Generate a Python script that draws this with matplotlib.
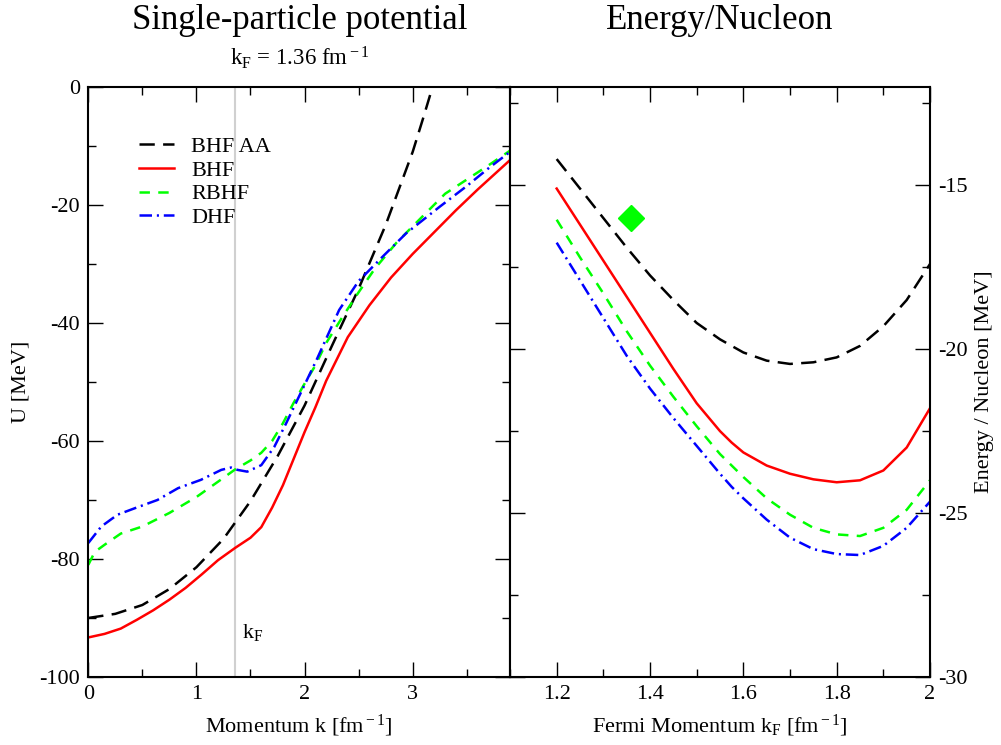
import matplotlib
matplotlib.use("Agg")
import matplotlib.pyplot as plt
from matplotlib.ticker import MultipleLocator

plt.rcParams["font.family"] = ["Liberation Serif", "DejaVu Serif"]
plt.rcParams["mathtext.fontset"] = "custom"
plt.rcParams["mathtext.rm"] = "Liberation Serif"
plt.rcParams["mathtext.it"] = "Liberation Serif:italic"
plt.rcParams["lines.scale_dashes"] = False
plt.rcParams["axes.unicode_minus"] = False

# ---------- DATA: single-particle potential (left) ----------
k_aa = [0, 0.25, 0.5, 0.75, 1.0, 1.25, 1.5, 1.75, 2.0, 2.25, 2.5, 2.75, 3.0, 3.1, 3.2]
u_aa = [-90.0, -89.3, -87.8, -85.1, -81.4, -76.6, -70.2, -62.6, -54.0, -44.0,
        -34.2, -23.4, -11.0, -5.1, 1.0]

k_bhf = [0, 0.15, 0.3, 0.45, 0.6, 0.75, 0.9, 1.05, 1.2, 1.36, 1.5, 1.6, 1.7, 1.8,
         1.9, 2.0, 2.1, 2.2, 2.4, 2.6, 2.8, 3.0, 3.2, 3.4, 3.6, 3.9]
u_bhf = [-93.3, -92.7, -91.8, -90.3, -88.7, -86.9, -84.9, -82.6, -80.2, -78.1,
         -76.4, -74.6, -71.3, -67.5, -63.0, -58.5, -54.3, -49.8, -42.4, -37.0,
         -32.3, -28.3, -24.6, -20.9, -17.4, -12.4]

k_rbhf = [0, 0.06, 0.15, 0.3, 0.5, 0.75, 1.0, 1.2, 1.36, 1.5, 1.6, 1.7, 1.8, 1.9,
          2.0, 2.1, 2.2, 2.35, 2.5, 2.65, 2.85, 3.05, 3.3, 3.5, 3.7, 3.9]
u_rbhf = [-81.0, -78.8, -77.6, -75.7, -74.5, -72.2, -69.5, -66.9, -64.8, -63.3,
          -62.0, -60.0, -57.0, -53.5, -50.3, -47.2, -43.4, -39.0, -34.8, -30.8,
          -26.4, -22.7, -18.1, -15.7, -13.3, -10.8]

k_dhf = [0, 0.12, 0.27, 0.43, 0.64, 0.83, 1.04, 1.23, 1.32, 1.38, 1.47, 1.6, 1.72,
         1.83, 2.0, 2.11, 2.32, 2.5, 2.72, 2.94, 3.25, 3.5, 3.7, 3.9]
u_dhf = [-77.3, -74.5, -72.5, -71.4, -70.0, -68.0, -66.6, -64.9, -64.5, -64.9,
         -65.2, -64.1, -61.0, -57.0, -50.5, -46.3, -37.8, -32.9, -28.8, -24.8,
         -20.3, -16.8, -13.8, -11.0]

K_FERMI = 1.36

# ---------- DATA: energy per nucleon (right) ----------
kf = [1.2, 1.25, 1.3, 1.35, 1.4, 1.45, 1.5, 1.55, 1.575, 1.6, 1.65, 1.7, 1.75,
      1.8, 1.85, 1.9, 1.95, 2.0]
e_aa = [-14.2, -15.1, -16.0, -16.9, -17.75, -18.5, -19.2, -19.7, -19.9, -20.1,
        -20.35, -20.45, -20.4, -20.25, -19.9, -19.3, -18.5, -17.4]
e_bhf = [-15.1, -16.2, -17.3, -18.4, -19.5, -20.6, -21.65, -22.5, -22.85, -23.15,
         -23.55, -23.8, -23.97, -24.06, -24.0, -23.7, -23.0, -21.8]
e_rbhf = [-16.05, -17.2, -18.3, -19.45, -20.5, -21.45, -22.35, -23.2, -23.55,
          -23.9, -24.55, -25.05, -25.45, -25.65, -25.7, -25.45, -24.9, -24.0]
e_dhf = [-16.75, -17.9, -19.05, -20.2, -21.2, -22.1, -22.95, -23.8, -24.2,
         -24.55, -25.2, -25.75, -26.1, -26.25, -26.28, -26.0, -25.45, -24.65]

sat_kf = [1.36]
sat_e = [-16.0]

# ---------- STYLE ----------
LW = 1.8
DASH_AA = (0, (11, 6))
DASH_RBHF = (0, (7.5, 6))
DASH_DHF = (0, (9, 3.5, 1.5, 3.5))


def style_axis(ax):
    for sp in ax.spines.values():
        sp.set_linewidth(1.5)
    ax.tick_params(which="both", direction="in", top=True, bottom=True,
                   left=True, right=True, labelsize=16, width=1.0, pad=6)
    ax.tick_params(which="major", length=11)
    ax.tick_params(which="minor", length=5.5)


fig = plt.figure(figsize=(10.01, 7.45), dpi=100)
ax1 = fig.add_axes([0.0882, 0.0913, 0.4213, 0.792])
ax2 = fig.add_axes([0.5095, 0.0913, 0.4196, 0.792])

# left panel
ax1.axvline(K_FERMI, color="#d0d0d0", lw=1.5, zorder=0)
ax1.plot(k_aa, u_aa, color="black", lw=LW, linestyle=DASH_AA, label="BHF AA")
ax1.plot(k_bhf, u_bhf, color="red", lw=LW, label="BHF")
ax1.plot(k_rbhf, u_rbhf, color="#00ff00", lw=LW, linestyle=DASH_RBHF, label="RBHF")
ax1.plot(k_dhf, u_dhf, color="blue", lw=LW, linestyle=DASH_DHF, label="DHF")
ax1.set_xlim(0, 3.9)
ax1.set_ylim(-100, 0)
ax1.xaxis.set_major_locator(MultipleLocator(1))
ax1.xaxis.set_minor_locator(MultipleLocator(0.5))
ax1.yaxis.set_major_locator(MultipleLocator(20))
ax1.yaxis.set_minor_locator(MultipleLocator(10))
style_axis(ax1)
ax1.set_xlabel(r"Momentum k [fm$^{\rm -1}$]", fontsize=16, labelpad=6)
ax1.set_ylabel("U [MeV]", fontsize=16, labelpad=6)
ax1.text(1.42, -92.4, r"k$_{\rm F}$", fontsize=16, va="center", ha="left")
ax1.legend(loc="upper left", bbox_to_anchor=(0.12, 0.916), frameon=False,
           fontsize=16, handlelength=1.6, handletextpad=0.75,
           labelspacing=0.14, borderpad=0, borderaxespad=0)

# right panel
ax2.plot(kf, e_aa, color="black", lw=LW, linestyle=DASH_AA)
ax2.plot(kf, e_bhf, color="red", lw=LW)
ax2.plot(kf, e_rbhf, color="#00ff00", lw=LW, linestyle=DASH_RBHF)
ax2.plot(kf, e_dhf, color="blue", lw=LW, linestyle=DASH_DHF)
ax2.plot(sat_kf, sat_e, marker="D", color="#00ff00", markersize=13,
         linestyle="none")
ax2.set_xlim(1.1, 2.0)
ax2.set_ylim(-30, -12)
ax2.xaxis.set_major_locator(MultipleLocator(0.2))
ax2.xaxis.set_minor_locator(MultipleLocator(0.1))
ax2.yaxis.set_major_locator(MultipleLocator(5))
ax2.yaxis.set_minor_locator(MultipleLocator(2.5))
style_axis(ax2)
ax2.tick_params(labelleft=False, labelright=True)
ax2.yaxis.set_label_position("right")
ax2.set_xlabel(r"Fermi Momentum k$_{\rm F}$ [fm$^{\rm -1}$]", fontsize=16, labelpad=6)
ax2.set_ylabel("Energy / Nucleon [MeV]", fontsize=16, labelpad=5)
ax2.set_xticks([1.2, 1.4, 1.6, 1.8, 2.0])
ax2.set_xticklabels(["1.2", "1.4", "1.6", "1.8", "2"])

# titles
fig.text(0.299, 0.972, "Single-particle potential", fontsize=25,
         ha="center", va="center")
fig.text(0.719, 0.972, "Energy/Nucleon", fontsize=25, ha="center", va="center")
fig.text(0.299, 0.922, r"k$_{\rm F}$ = 1.36 fm$^{\rm -1}$", fontsize=16.5,
         ha="center", va="center")

fig.savefig("out.png", dpi=100)
